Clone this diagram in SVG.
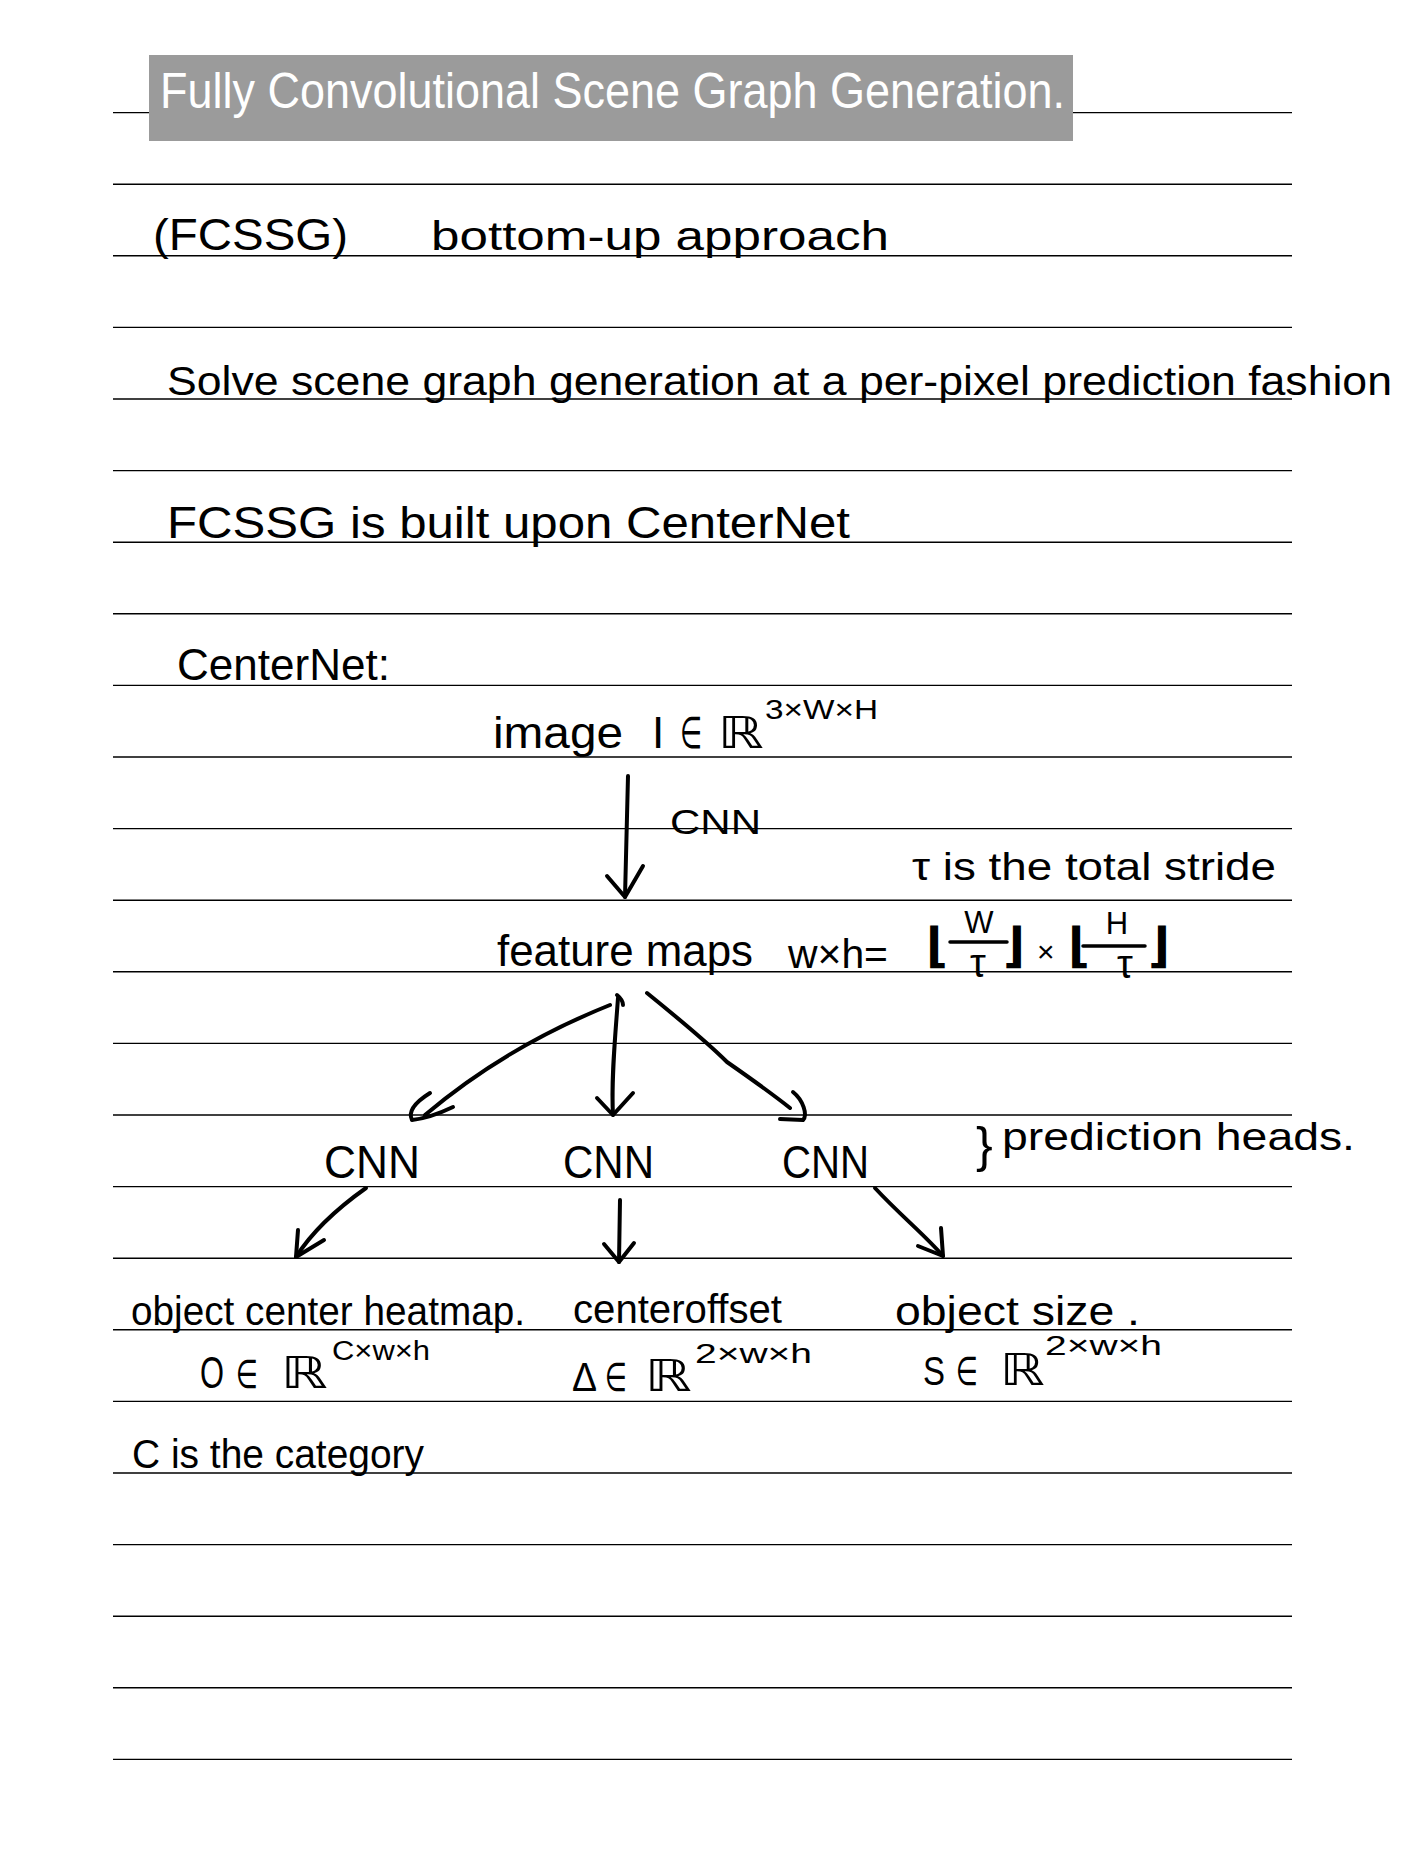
<svg xmlns="http://www.w3.org/2000/svg" width="1404" height="1872" viewBox="0 0 1404 1872">
<style>
.rule{stroke:#000;stroke-width:1.4}
text{font-family:"Liberation Sans","DejaVu Sans",sans-serif;fill:#000}
.t40{font-size:40px}
.t44{font-size:44px}
.sup{font-size:27px}
.frac{font-size:31px}
.brk{font-size:48px;font-weight:bold}
.title{font-size:50px;fill:#fff}
.conn{fill:none;stroke:#000;stroke-width:4;stroke-linecap:round;stroke-linejoin:round}
.bar{stroke:#000;stroke-width:3.5;stroke-linecap:round}
</style>
<rect x="0" y="0" width="1404" height="1872" fill="#fff"/>
<g id="rules">
<line class="rule" x1="113" y1="112.6" x2="1292" y2="112.6"/>
<line class="rule" x1="113" y1="184.2" x2="1292" y2="184.2"/>
<line class="rule" x1="113" y1="255.8" x2="1292" y2="255.8"/>
<line class="rule" x1="113" y1="327.4" x2="1292" y2="327.4"/>
<line class="rule" x1="113" y1="399" x2="1292" y2="399"/>
<line class="rule" x1="113" y1="470.6" x2="1292" y2="470.6"/>
<line class="rule" x1="113" y1="542.2" x2="1292" y2="542.2"/>
<line class="rule" x1="113" y1="613.8" x2="1292" y2="613.8"/>
<line class="rule" x1="113" y1="685.4" x2="1292" y2="685.4"/>
<line class="rule" x1="113" y1="757" x2="1292" y2="757"/>
<line class="rule" x1="113" y1="828.6" x2="1292" y2="828.6"/>
<line class="rule" x1="113" y1="900.2" x2="1292" y2="900.2"/>
<line class="rule" x1="113" y1="971.8" x2="1292" y2="971.8"/>
<line class="rule" x1="113" y1="1043.4" x2="1292" y2="1043.4"/>
<line class="rule" x1="113" y1="1115" x2="1292" y2="1115"/>
<line class="rule" x1="113" y1="1186.6" x2="1292" y2="1186.6"/>
<line class="rule" x1="113" y1="1258.2" x2="1292" y2="1258.2"/>
<line class="rule" x1="113" y1="1329.8" x2="1292" y2="1329.8"/>
<line class="rule" x1="113" y1="1401.4" x2="1292" y2="1401.4"/>
<line class="rule" x1="113" y1="1473" x2="1292" y2="1473"/>
<line class="rule" x1="113" y1="1544.6" x2="1292" y2="1544.6"/>
<line class="rule" x1="113" y1="1616.2" x2="1292" y2="1616.2"/>
<line class="rule" x1="113" y1="1687.8" x2="1292" y2="1687.8"/>
<line class="rule" x1="113" y1="1759.4" x2="1292" y2="1759.4"/>
</g>
<g id="title">
<rect x="149" y="55" width="924" height="86" fill="#9b9b9b"/>
<text class="title" x="160" y="108" textLength="905" lengthAdjust="spacingAndGlyphs">Fully Convolutional Scene Graph Generation.</text>
</g>
<g id="line-fcssg">
<text class="t44" x="153" y="250" textLength="195" lengthAdjust="spacingAndGlyphs">(FCSSG)</text>
<text class="t40" x="431" y="250" textLength="458" lengthAdjust="spacingAndGlyphs">bottom-up approach</text>
</g>
<g id="line-solve">
<text class="t40" x="167" y="395" textLength="1225" lengthAdjust="spacingAndGlyphs">Solve scene graph generation at a per-pixel prediction fashion</text>
</g>
<g id="line-built">
<text class="t44" x="167" y="538" textLength="683" lengthAdjust="spacingAndGlyphs">FCSSG is built upon CenterNet</text>
</g>
<g id="line-centernet">
<text class="t44" x="177" y="680" textLength="213" lengthAdjust="spacingAndGlyphs">CenterNet:</text>
</g>
<g id="node-image">
<text class="t44" x="493" y="748" textLength="130" lengthAdjust="spacingAndGlyphs">image</text>
<text class="t44" x="652" y="748">I</text>
<text class="t44" x="680" y="748" textLength="22" lengthAdjust="spacingAndGlyphs">∈</text>
<text class="t44" x="718" y="748" textLength="46" lengthAdjust="spacingAndGlyphs">ℝ</text>
<text class="sup" x="765" y="719" textLength="113" lengthAdjust="spacingAndGlyphs">3×W×H</text>
</g>
<g id="label-cnn">
<text style="font-size:35px" x="670" y="834" textLength="91" lengthAdjust="spacingAndGlyphs">CNN</text>
</g>
<g id="note-stride">
<text style="font-size:38px" x="912" y="880" textLength="364" lengthAdjust="spacingAndGlyphs">τ is the total stride</text>
</g>
<g id="node-feature">
<text class="t44" x="497" y="966" textLength="256" lengthAdjust="spacingAndGlyphs">feature maps</text>
<text class="t40" x="788" y="968" textLength="100" lengthAdjust="spacingAndGlyphs">w×h=</text>
<text class="brk" x="926" y="962">⌊</text>
<text class="frac" x="979" y="933" text-anchor="middle">W</text>
<line class="bar" x1="950" y1="942" x2="1007" y2="942"/>
<text style="font-size:40px" x="978" y="977" text-anchor="middle">τ</text>
<text class="brk" x="1003" y="962">⌋</text>
<text style="font-size:30px" x="1037" y="962">×</text>
<text class="brk" x="1068" y="962">⌊</text>
<text class="frac" x="1117" y="934" text-anchor="middle">H</text>
<line class="bar" x1="1083" y1="946" x2="1145" y2="946"/>
<text style="font-size:40px" x="1125" y="978" text-anchor="middle">τ</text>
<text class="brk" x="1148" y="962">⌋</text>
</g>
<g id="node-cnn1">
<text style="font-size:46px" x="324" y="1178" textLength="96" lengthAdjust="spacingAndGlyphs">CNN</text>
</g>
<g id="node-cnn2">
<text style="font-size:46px" x="563" y="1178" textLength="91" lengthAdjust="spacingAndGlyphs">CNN</text>
</g>
<g id="node-cnn3">
<text style="font-size:46px" x="782" y="1178" textLength="87" lengthAdjust="spacingAndGlyphs">CNN</text>
</g>
<g id="note-heads">
<text style="font-size:50px" x="976" y="1162">}</text>
<text style="font-size:38px" x="1002" y="1150" textLength="353" lengthAdjust="spacingAndGlyphs">prediction heads.</text>
</g>
<g id="node-heatmap">
<text class="t40" x="131" y="1325" textLength="394" lengthAdjust="spacingAndGlyphs">object center heatmap.</text>
<text class="t44" x="200" y="1388" textLength="24" lengthAdjust="spacingAndGlyphs">O</text>
<text class="t40" x="236" y="1388" textLength="22" lengthAdjust="spacingAndGlyphs">∈</text>
<text class="t44" x="281" y="1388" textLength="47" lengthAdjust="spacingAndGlyphs">ℝ</text>
<text class="sup" x="332" y="1360" textLength="98" lengthAdjust="spacingAndGlyphs">C×w×h</text>
</g>
<g id="node-offset">
<text class="t40" x="573" y="1323" textLength="209" lengthAdjust="spacingAndGlyphs">centeroffset</text>
<text class="t40" x="572" y="1391" textLength="25" lengthAdjust="spacingAndGlyphs">Δ</text>
<text class="t40" x="605" y="1391" textLength="22" lengthAdjust="spacingAndGlyphs">∈</text>
<text class="t44" x="645" y="1391" textLength="47" lengthAdjust="spacingAndGlyphs">ℝ</text>
<text class="sup" x="695" y="1363" textLength="117" lengthAdjust="spacingAndGlyphs">2×w×h</text>
</g>
<g id="node-size">
<text class="t40" x="895" y="1325" textLength="245" lengthAdjust="spacingAndGlyphs">object size .</text>
<text class="t40" x="923" y="1385" textLength="22" lengthAdjust="spacingAndGlyphs">S</text>
<text class="t40" x="956" y="1385" textLength="22" lengthAdjust="spacingAndGlyphs">∈</text>
<text class="t44" x="1000" y="1385" textLength="45" lengthAdjust="spacingAndGlyphs">ℝ</text>
<text class="sup" x="1045" y="1355" textLength="117" lengthAdjust="spacingAndGlyphs">2×w×h</text>
</g>
<g id="note-category">
<text class="t40" x="132" y="1468" textLength="292" lengthAdjust="spacingAndGlyphs">C is the category</text>
</g>
<g id="connectors">
<path class="conn" d="M628,776 L625,897"/>
<path class="conn" d="M607,876 L625,897 L643,866"/>
<path class="conn" d="M610,1005 C560,1025 490,1060 425,1115"/>
<path class="conn" d="M430,1093 Q406,1108 412,1120 Q430,1118 453,1107"/>
<path class="conn" d="M617,995 Q623,1000 623,1005"/>
<path class="conn" d="M618,998 C615,1040 611,1080 613,1115"/>
<path class="conn" d="M597,1098 L613,1115 L633,1093"/>
<path class="conn" d="M647,993 Q705,1040 727,1062 Q770,1092 790,1108"/>
<path class="conn" d="M793,1092 C803,1100 808,1115 803,1120 L780,1119"/>
<path class="conn" d="M366,1188 C335,1210 310,1235 296,1257"/>
<path class="conn" d="M298,1230 L296,1257 L324,1240"/>
<path class="conn" d="M620,1200 L619,1262"/>
<path class="conn" d="M604,1244 L619,1262 L634,1243"/>
<path class="conn" d="M875,1188 C900,1215 925,1235 943,1256"/>
<path class="conn" d="M918,1246 L943,1256 L941,1228"/>
</g>
</svg>
